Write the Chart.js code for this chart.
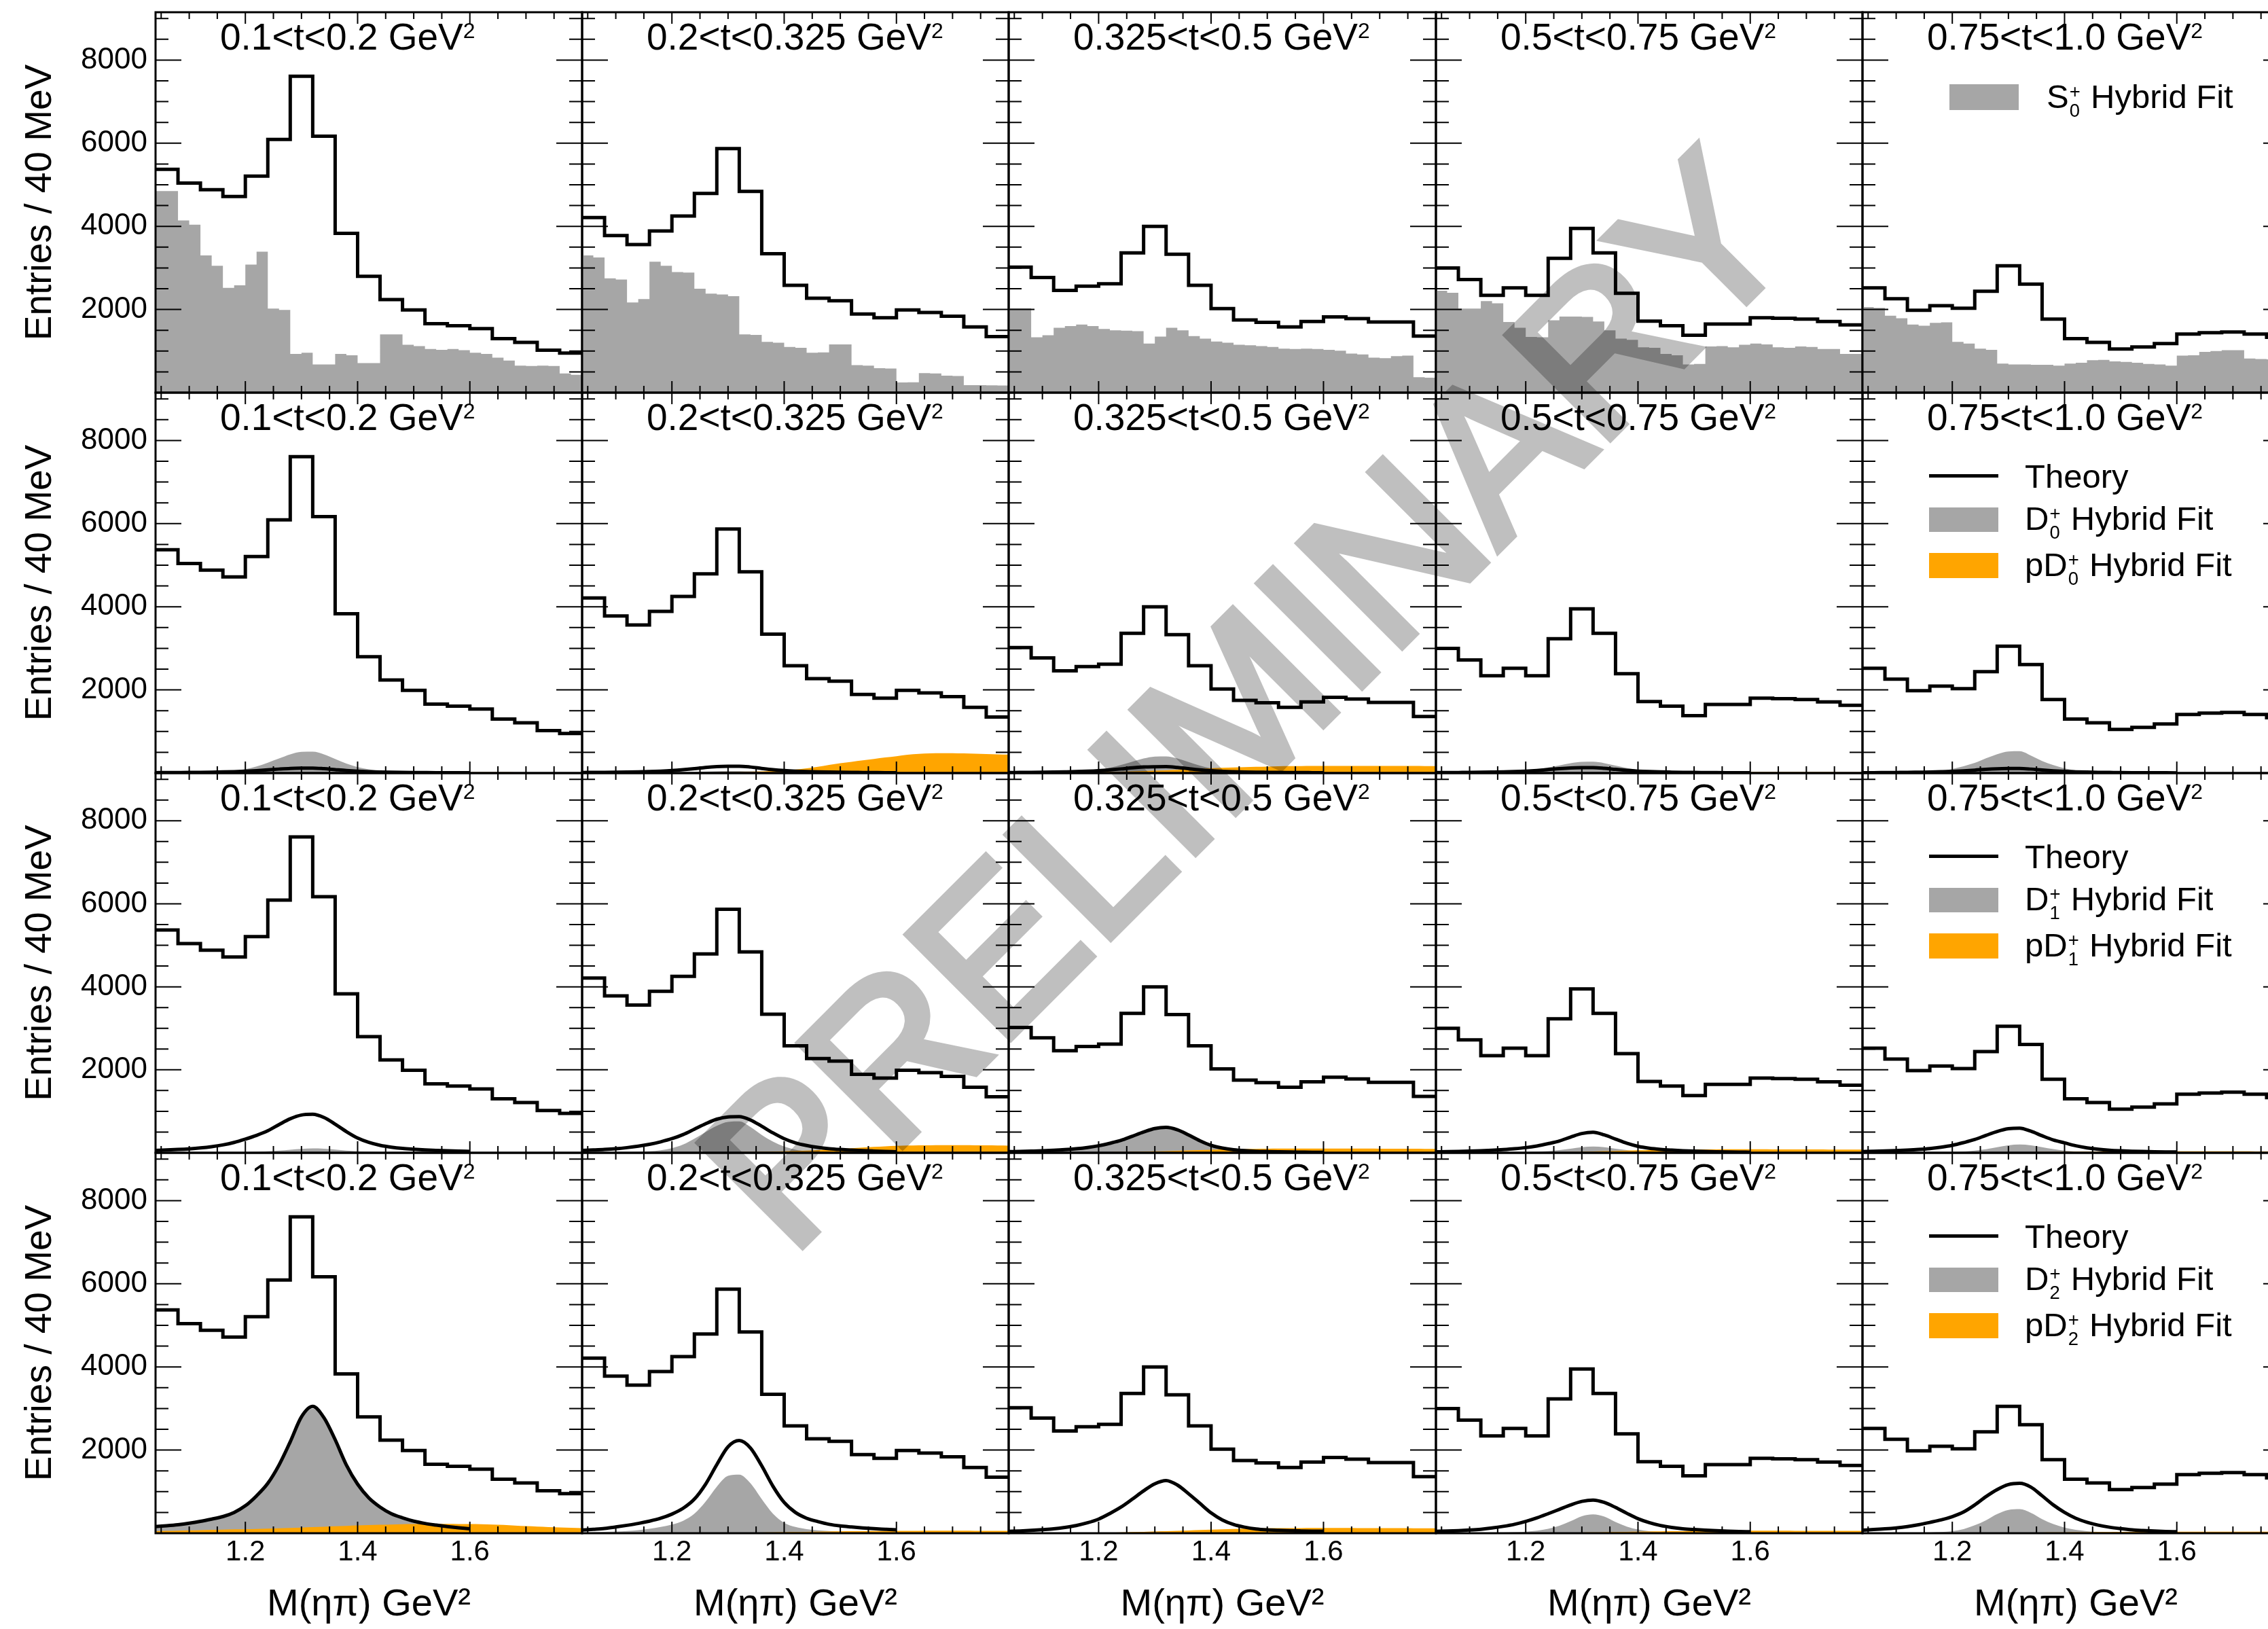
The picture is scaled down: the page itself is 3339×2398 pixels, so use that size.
<!DOCTYPE html>
<html>
<head>
<meta charset="utf-8">
<script src="https://cdn.jsdelivr.net/npm/chart.js@4/dist/chart.umd.min.js"></script>
<style>
html, body { margin: 0; padding: 0; width: 3339px; height: 2398px; overflow: hidden; background: #fff; }
#stage { position: absolute; left: 0; top: 0; width: 3400px; height: 2410px;
         font-family: "Liberation Sans", Arial, Helvetica, sans-serif; color: #000; }
#stage canvas { position: absolute; }
.ptitle { position: absolute; font-size: 55px; line-height: 55px; white-space: nowrap; }
.sq { font-size: 0.58em; position: relative; top: -0.55em; }
.leg { position: absolute; font-size: 49px; line-height: 49px; white-space: nowrap; }
.ss { display: inline-block; font-size: 0.56em; line-height: 1; vertical-align: -0.48em; margin: 0 0.06em 0 0.04em; }
.sw { position: absolute; }
#wm { position: absolute; left: 1833px; top: 1030px; transform: translate(-50%, -50%) rotate(-45deg);
      font-size: 312px; line-height: 312px; white-space: nowrap; color: #000; opacity: 0.25;
      -webkit-text-stroke: 11px #000; pointer-events: none; }
</style>
</head>
<body>
<div id="stage"></div>
<script>
// ---------------- t-bin labels and axis ticks ----------------
const tBinTitles = ['0.1<t<0.2', '0.2<t<0.325', '0.325<t<0.5', '0.5<t<0.75', '0.75<t<1.0'];
const massTickLabels = [1.2, 1.4, 1.6];
const massMinorTicks = [1.05, 1.10, 1.15, 1.25, 1.30, 1.35, 1.45, 1.50, 1.55, 1.65, 1.70, 1.75];
const countTickLabels = [2000, 4000, 6000, 8000];
const countMinorTicks = [500, 1000, 1500, 2500, 3000, 3500, 4500, 5000, 5500, 6500, 7000, 7500, 8500, 9000];
const massLow = 1.04, massHigh = 1.80, countMax = 9150;
const dataBinWidth = 0.04;   // 40 MeV data bins
const fitBinWidth = 0.02;    // fine binning of the fit components

// ---------------- measured M(eta pi) spectra, one per t bin (19 bins, 1.04-1.80) ----------------
const countsT1 = [5370, 5040, 4880, 4720, 5210, 6090, 7610, 6170, 3830, 2800, 2240, 1990, 1660, 1610, 1540, 1300, 1210, 1020, 950];
const countsT2 = [4210, 3780, 3560, 3890, 4250, 4790, 5870, 4840, 3340, 2580, 2270, 2210, 1890, 1800, 1990, 1930, 1840, 1580, 1350];
const countsT3 = [3020, 2770, 2460, 2560, 2620, 3360, 4000, 3330, 2580, 2020, 1750, 1690, 1580, 1710, 1820, 1780, 1700, 1700, 1360];
const countsT4 = [3000, 2720, 2340, 2520, 2340, 3230, 3950, 3360, 2390, 1720, 1610, 1380, 1650, 1650, 1800, 1790, 1770, 1710, 1630];
const countsT5 = [2520, 2260, 1980, 2090, 2030, 2440, 3050, 2610, 1770, 1300, 1210, 1050, 1100, 1180, 1410, 1440, 1460, 1410, 1330];

// ---------------- S0+ hybrid fit (38 bins of 20 MeV) ----------------
const s0FitT1 = [4850, 4850, 4140, 4040, 3300, 3050, 2520, 2580, 3080, 3390, 2020, 1990, 930, 960, 680, 680, 930, 900, 710, 710, 1400, 1400, 1150, 1120, 1050, 1030, 1050, 1020, 960, 930, 840, 770, 650, 640, 650, 640, 460, 430];
const s0FitT2 = [3300, 3250, 2750, 2720, 2170, 2250, 3150, 3050, 2900, 2890, 2500, 2380, 2360, 2320, 1400, 1390, 1220, 1200, 1100, 1080, 960, 970, 1160, 1160, 660, 650, 590, 580, 245, 250, 470, 460, 410, 400, 180, 180, 175, 170];
const s0FitT3 = [2030, 2030, 1330, 1380, 1560, 1600, 1640, 1600, 1530, 1500, 1490, 1480, 1180, 1350, 1560, 1500, 1360, 1300, 1230, 1200, 1150, 1140, 1120, 1100, 1060, 1050, 1060, 1050, 1030, 1010, 940, 920, 840, 830, 880, 890, 370, 360];
const s0FitT4 = [2450, 2400, 2020, 2020, 2200, 2150, 1700, 1560, 1340, 1330, 1740, 1830, 1830, 1820, 1710, 1500, 1300, 1270, 1090, 1080, 930, 900, 680, 690, 1110, 1120, 1090, 1150, 1180, 1160, 1090, 1080, 1110, 1100, 1050, 1050, 930, 930];
const s0FitT5 = [2060, 2040, 1850, 1790, 1640, 1610, 1680, 1690, 1220, 1180, 1060, 1030, 700, 680, 680, 670, 670, 650, 700, 720, 780, 790, 750, 740, 720, 690, 680, 650, 890, 900, 980, 1000, 1020, 1020, 820, 810, 800, 800];

// ---------------- D0+ (values at 1.04, 1.06, ... 1.80) ----------------
const d0FitT1 = [5, 6, 8, 10, 14, 20, 32, 55, 95, 160, 250, 350, 450, 510, 515, 450, 340, 230, 145, 90, 55, 35, 22, 15, 10, 8, 6, 5, 4, 3, 3, 3, 2, 2, 2, 2, 2, 2, 2];
const d0FitT2 = [1, 1, 1, 2, 2, 3, 4, 6, 10, 16, 25, 35, 45, 50, 50, 43, 32, 22, 14, 9, 6, 4, 3, 2, 2, 2, 2, 2, 2, 2, 2, 2, 2, 2, 2, 2, 2, 2, 2];
const d0FitT3 = [4, 5, 6, 8, 11, 16, 25, 43, 74, 125, 195, 273, 350, 398, 402, 350, 265, 180, 113, 70, 43, 27, 17, 12, 8, 6, 5, 4, 3, 3, 2, 2, 2, 2, 2, 2, 2, 2, 2];
const d0FitT4 = [3, 4, 5, 6, 8, 11, 17, 29, 50, 85, 133, 185, 238, 270, 272, 238, 180, 122, 77, 48, 29, 19, 12, 8, 6, 4, 3, 3, 2, 2, 2, 2, 1, 1, 1, 1, 1, 1, 1];
const d0FitT5 = [2, 3, 3, 4, 6, 9, 20, 50, 100, 165, 245, 355, 455, 520, 525, 420, 290, 190, 115, 65, 38, 24, 14, 9, 6, 5, 4, 3, 3, 2, 2, 2, 2, 2, 2, 2, 2, 2, 2];
const pd0FitT1 = [5, 5, 6, 6, 7, 7, 8, 8, 9, 9, 10, 10, 11, 12, 12, 13, 14, 14, 15, 16, 16, 17, 17, 18, 18, 18, 19, 19, 19, 19, 19, 19, 18, 18, 18, 17, 17, 16, 16];
const pd0FitT2 = [2, 3, 4, 5, 6, 7, 8, 10, 11, 13, 14, 16, 18, 20, 25, 32, 40, 48, 60, 85, 115, 150, 195, 235, 270, 305, 340, 375, 405, 440, 460, 472, 478, 478, 472, 465, 458, 450, 445];
const pd0FitT3 = [5, 6, 7, 8, 10, 12, 15, 18, 22, 27, 33, 40, 48, 57, 67, 78, 90, 102, 114, 125, 135, 144, 151, 157, 162, 166, 169, 171, 172, 173, 173, 173, 172, 172, 171, 170, 170, 169, 168];
const pd0FitT4 = [3, 3, 4, 4, 5, 5, 6, 7, 8, 9, 10, 11, 12, 13, 14, 15, 16, 17, 18, 19, 20, 21, 22, 22, 23, 23, 24, 24, 24, 24, 24, 24, 24, 23, 23, 23, 22, 22, 22];
const pd0FitT5 = [2, 2, 3, 3, 3, 4, 4, 5, 5, 6, 6, 7, 8, 8, 9, 9, 10, 10, 11, 11, 12, 12, 13, 13, 13, 14, 14, 14, 14, 14, 14, 14, 14, 14, 13, 13, 13, 13, 13];
// theory curves sampled at 1.04, 1.06, ... 1.60
const d0TheoryT1 = [10, 11, 13, 15, 18, 22, 27, 34, 44, 58, 76, 96, 112, 118, 120, 105, 82, 60, 44, 33, 26, 21, 17, 14, 12, 10, 9, 8, 7];
const d0TheoryT2 = [14, 16, 18, 21, 25, 30, 37, 47, 61, 81, 106, 135, 155, 163, 165, 145, 112, 82, 60, 45, 35, 28, 23, 19, 16, 14, 12, 10, 9];
const d0TheoryT3 = [13, 15, 17, 20, 24, 29, 35, 44, 57, 76, 100, 127, 146, 153, 155, 136, 105, 77, 56, 42, 33, 26, 21, 18, 15, 13, 11, 10, 9];
const d0TheoryT4 = [11, 12, 14, 16, 19, 23, 28, 36, 47, 63, 84, 107, 123, 129, 130, 114, 88, 65, 47, 35, 27, 22, 18, 15, 13, 11, 10, 9, 8];
const d0TheoryT5 = [9, 10, 12, 14, 16, 20, 24, 31, 40, 54, 71, 91, 104, 109, 110, 96, 74, 55, 40, 30, 23, 18, 15, 12, 10, 9, 8, 7, 6];

// ---------------- D1+ ----------------
const d1FitT1 = [1, 1, 2, 2, 3, 4, 6, 9, 14, 22, 35, 52, 75, 95, 105, 98, 78, 55, 36, 23, 15, 10, 7, 5, 4, 3, 2, 2, 2, 1, 1, 1, 1, 1, 1, 1, 1, 1, 1];
const d1FitT2 = [5, 7, 9, 12, 16, 22, 35, 60, 110, 200, 340, 500, 650, 745, 755, 620, 430, 270, 150, 75, 40, 22, 14, 10, 7, 5, 4, 4, 4, 4, 4, 4, 4, 4, 4, 4, 4, 4, 4];
const d1FitT3 = [20, 24, 29, 35, 44, 56, 74, 100, 140, 200, 280, 390, 500, 600, 630, 560, 420, 270, 160, 95, 58, 38, 26, 19, 14, 11, 9, 7, 6, 5, 5, 4, 4, 4, 3, 3, 3, 3, 3];
const d1FitT4 = [1, 1, 2, 2, 3, 4, 6, 9, 14, 24, 40, 65, 100, 135, 150, 135, 100, 65, 38, 22, 13, 8, 5, 4, 3, 2, 2, 2, 1, 1, 1, 1, 1, 1, 1, 1, 1, 1, 1];
const d1FitT5 = [1, 2, 2, 3, 4, 5, 7, 11, 18, 30, 52, 85, 135, 180, 200, 180, 135, 88, 52, 30, 18, 11, 7, 5, 4, 3, 2, 2, 2, 2, 2, 2, 1, 1, 1, 1, 1, 1, 1];
const pd1FitT1 = [3, 3, 4, 4, 5, 5, 6, 6, 7, 7, 8, 8, 9, 9, 10, 10, 11, 11, 12, 12, 12, 13, 13, 13, 13, 14, 14, 14, 14, 14, 14, 13, 13, 13, 13, 12, 12, 12, 12];
const pd1FitT2 = [2, 2, 3, 3, 4, 4, 5, 6, 7, 8, 9, 11, 13, 15, 18, 21, 25, 30, 36, 44, 54, 66, 80, 96, 112, 128, 143, 156, 166, 174, 179, 182, 184, 184, 183, 181, 179, 176, 173];
const pd1FitT3 = [3, 4, 5, 6, 7, 8, 10, 12, 14, 17, 20, 24, 29, 35, 42, 50, 58, 66, 74, 81, 87, 92, 96, 99, 101, 102, 103, 103, 103, 103, 102, 102, 101, 100, 99, 98, 97, 96, 95];
const pd1FitT4 = [2, 3, 3, 4, 5, 6, 7, 8, 10, 12, 14, 17, 21, 26, 32, 39, 46, 53, 60, 66, 71, 75, 78, 80, 82, 83, 84, 84, 84, 84, 83, 83, 82, 81, 80, 79, 78, 77, 76];
const pd1FitT5 = [2, 2, 3, 3, 4, 4, 5, 6, 7, 8, 9, 10, 12, 14, 16, 18, 20, 22, 24, 26, 28, 30, 31, 32, 33, 34, 35, 35, 36, 36, 36, 36, 35, 35, 35, 34, 34, 33, 33];
const d1TheoryT1 = [58, 68, 80, 96, 118, 148, 190, 250, 330, 420, 530, 680, 820, 910, 928, 850, 690, 510, 355, 250, 180, 135, 105, 86, 70, 58, 48, 40, 34];
const d1TheoryT2 = [58, 68, 80, 98, 125, 160, 205, 265, 340, 440, 570, 700, 810, 865, 872, 790, 640, 480, 340, 240, 175, 130, 100, 80, 65, 52, 42, 33, 25];
const d1TheoryT3 = [28, 33, 40, 48, 60, 76, 98, 128, 170, 230, 300, 400, 500, 585, 612, 555, 430, 290, 180, 115, 75, 52, 38, 30, 24, 19, 16, 13, 11];
const d1TheoryT4 = [25, 29, 34, 41, 50, 62, 78, 98, 125, 165, 220, 285, 380, 465, 495, 430, 330, 230, 155, 110, 82, 64, 50, 40, 32, 26, 21, 17, 14];
const d1TheoryT5 = [30, 36, 43, 52, 64, 80, 102, 135, 180, 245, 320, 420, 515, 580, 595, 520, 410, 310, 240, 170, 120, 85, 62, 48, 38, 31, 26, 22, 19];

// ---------------- D2+ ----------------
const d2FitT1 = [140, 160, 185, 215, 255, 305, 370, 470, 630, 860, 1160, 1600, 2150, 2740, 3000, 2720, 2200, 1600, 1150, 820, 600, 440, 330, 250, 190, 145, 110, 80, 60, 45, 35, 28, 22, 18, 15, 12, 10, 9, 8];
const d2FitT2 = [20, 25, 32, 42, 55, 75, 105, 150, 210, 300, 470, 760, 1120, 1380, 1410, 1200, 820, 470, 250, 150, 100, 70, 52, 40, 32, 26, 22, 18, 15, 13, 12, 11, 10, 9, 8, 8, 7, 7, 6];
const d2FitT3 = [1, 1, 1, 2, 2, 3, 4, 5, 7, 10, 15, 22, 32, 42, 48, 44, 33, 22, 14, 9, 6, 4, 3, 2, 2, 2, 1, 1, 1, 1, 1, 1, 1, 1, 1, 1, 1, 1, 1];
const d2FitT4 = [3, 4, 5, 6, 8, 11, 16, 24, 38, 62, 105, 180, 290, 410, 455, 400, 270, 160, 90, 50, 28, 17, 11, 8, 6, 5, 4, 3, 3, 2, 2, 2, 2, 2, 2, 1, 1, 1, 1];
const d2FitT5 = [3, 4, 5, 7, 9, 12, 18, 28, 50, 100, 190, 310, 460, 560, 580, 490, 340, 220, 135, 82, 50, 32, 21, 14, 10, 8, 6, 5, 4, 3, 3, 3, 2, 2, 2, 2, 2, 2, 2];
const pd2FitT1 = [50, 56, 62, 68, 74, 80, 86, 92, 98, 104, 110, 118, 126, 136, 146, 156, 166, 176, 186, 195, 203, 210, 216, 220, 222, 223, 223, 222, 220, 216, 210, 200, 185, 172, 160, 148, 138, 130, 122];
const pd2FitT2 = [2, 2, 3, 3, 4, 4, 5, 5, 6, 7, 8, 9, 10, 12, 14, 16, 18, 21, 24, 27, 31, 35, 39, 43, 47, 50, 53, 55, 57, 58, 59, 60, 60, 60, 60, 59, 59, 58, 58];
const pd2FitT3 = [3, 4, 5, 6, 7, 8, 10, 12, 15, 18, 22, 27, 33, 40, 48, 57, 66, 76, 85, 94, 102, 109, 114, 118, 121, 123, 124, 125, 125, 125, 125, 124, 124, 123, 122, 121, 120, 119, 118];
const pd2FitT4 = [2, 2, 3, 3, 4, 4, 5, 6, 7, 8, 10, 12, 14, 17, 20, 24, 28, 32, 36, 40, 44, 48, 51, 54, 56, 58, 59, 60, 60, 60, 60, 60, 59, 59, 58, 58, 57, 57, 56];
const pd2FitT5 = [2, 2, 2, 3, 3, 4, 4, 5, 6, 7, 8, 9, 10, 12, 14, 16, 18, 20, 22, 24, 26, 28, 30, 32, 34, 35, 36, 37, 38, 38, 38, 38, 38, 37, 37, 37, 36, 36, 35];
const d2TheoryT1 = [160, 180, 205, 240, 285, 340, 400, 500, 660, 900, 1200, 1640, 2200, 2800, 3050, 2780, 2250, 1640, 1180, 850, 630, 470, 370, 290, 235, 195, 160, 130, 105];
const d2TheoryT2 = [78, 95, 115, 150, 190, 235, 290, 360, 460, 600, 820, 1180, 1650, 2080, 2230, 2050, 1620, 1130, 740, 500, 360, 280, 215, 175, 150, 128, 110, 95, 80];
const d2TheoryT3 = [45, 55, 68, 85, 105, 140, 185, 250, 340, 475, 630, 820, 1020, 1190, 1268, 1160, 950, 720, 490, 320, 210, 145, 102, 80, 68, 60, 55, 51, 48];
const d2TheoryT4 = [45, 52, 62, 76, 95, 125, 165, 215, 285, 370, 470, 575, 680, 765, 797, 740, 620, 480, 350, 255, 185, 140, 108, 88, 72, 60, 50, 42, 36];
const d2TheoryT5 = [75, 88, 105, 128, 160, 205, 260, 320, 400, 510, 680, 880, 1050, 1170, 1200, 1110, 900, 680, 500, 360, 265, 195, 145, 110, 82, 65, 52, 42, 35];

// ---------------- grouping ----------------
const countsByT = [countsT1, countsT2, countsT3, countsT4, countsT5];
const fitRows = [
  { gray: [s0FitT1, s0FitT2, s0FitT3, s0FitT4, s0FitT5] },
  { gray: [d0FitT1, d0FitT2, d0FitT3, d0FitT4, d0FitT5],
    orange: [pd0FitT1, pd0FitT2, pd0FitT3, pd0FitT4, pd0FitT5],
    theory: [d0TheoryT1, d0TheoryT2, d0TheoryT3, d0TheoryT4, d0TheoryT5] },
  { gray: [d1FitT1, d1FitT2, d1FitT3, d1FitT4, d1FitT5],
    orange: [pd1FitT1, pd1FitT2, pd1FitT3, pd1FitT4, pd1FitT5],
    theory: [d1TheoryT1, d1TheoryT2, d1TheoryT3, d1TheoryT4, d1TheoryT5] },
  { gray: [d2FitT1, d2FitT2, d2FitT3, d2FitT4, d2FitT5],
    orange: [pd2FitT1, pd2FitT2, pd2FitT3, pd2FitT4, pd2FitT5],
    theory: [d2TheoryT1, d2TheoryT2, d2TheoryT3, d2TheoryT4, d2TheoryT5] }
];

// ---------------- layout & style ----------------
const FONT = '"Liberation Sans", Arial, Helvetica, sans-serif';
const GRAY = 'rgb(166,166,166)';
const ORANGE = 'rgb(255,165,0)';
const colLeft = [229, 857, 1485, 2114, 2742];
const colWidth = [628, 628, 629, 628, 628];
const rowTop = [18, 578, 1138, 1697];
const rowHeight = [560, 560, 559, 560];
const PAD = 6, YAXIS_W = 229, XAXIS_H = 141;

Chart.defaults.font.family = FONT;
Chart.defaults.color = '#000';

function histPoints(vals, width) {
  const pts = vals.map((v, i) => ({ x: massLow + i * width, y: v }));
  pts.push({ x: massLow + vals.length * width, y: vals[vals.length - 1] });
  return pts;
}
function curvePoints(vals, step) {
  return vals.map((v, i) => ({ x: massLow + i * step, y: v }));
}

// frame plus inward ticks on all four sides of each pad
const padFrame = {
  id: 'padFrame',
  afterDraw(chart) {
    const { ctx, chartArea: a } = chart;
    const xs = chart.scales.x, ys = chart.scales.y;
    ctx.save();
    ctx.strokeStyle = '#000';
    ctx.lineCap = 'butt';
    ctx.lineWidth = 2;
    ctx.beginPath();
    const yTick = (v, len) => {
      const p = ys.getPixelForValue(v);
      ctx.moveTo(a.left, p); ctx.lineTo(a.left + len, p);
      ctx.moveTo(a.right, p); ctx.lineTo(a.right - len, p);
    };
    const xTick = (v, len) => {
      const p = xs.getPixelForValue(v);
      ctx.moveTo(p, a.bottom); ctx.lineTo(p, a.bottom - len);
      ctx.moveTo(p, a.top); ctx.lineTo(p, a.top + len);
    };
    countTickLabels.forEach(v => yTick(v, 38));
    countMinorTicks.forEach(v => yTick(v, 19));
    massTickLabels.forEach(v => xTick(v, 17));
    massMinorTicks.forEach(v => xTick(v, 10));
    ctx.stroke();
    ctx.lineWidth = 3;
    ctx.strokeRect(a.left, a.top, a.right - a.left, a.bottom - a.top);
    ctx.restore();
  }
};

function panelDatasets(r, c) {
  const row = fitRows[r];
  const sets = [];
  if (r === 0) {
    sets.push({ data: histPoints(row.gray[c], fitBinWidth), stepped: true, fill: 'origin',
                backgroundColor: GRAY, borderColor: 'transparent', borderWidth: 0, order: 3 });
  } else {
    sets.push({ data: curvePoints(row.gray[c], fitBinWidth), fill: 'origin', cubicInterpolationMode: 'monotone',
                backgroundColor: GRAY, borderColor: 'transparent', borderWidth: 0, order: 3 });
    sets.push({ data: curvePoints(row.orange[c], fitBinWidth), fill: 'origin', cubicInterpolationMode: 'monotone',
                backgroundColor: ORANGE, borderColor: 'transparent', borderWidth: 0, order: 2 });
  }
  sets.push({ data: histPoints(countsByT[c], dataBinWidth), stepped: true, fill: false,
              borderColor: '#000', borderWidth: 5, order: 1 });
  if (r > 0) {
    sets.push({ data: curvePoints(row.theory[c], fitBinWidth), fill: false, cubicInterpolationMode: 'monotone',
                borderColor: '#000', borderWidth: 5, order: 0 });
  }
  return sets;
}

function panelConfig(r, c) {
  const showX = r === 3, showY = c === 0;
  return {
    type: 'line',
    data: { datasets: panelDatasets(r, c) },
    options: {
      responsive: false, animation: false, devicePixelRatio: 1, events: [],
      layout: { padding: PAD },
      elements: { point: { radius: 0 }, line: { borderJoinStyle: 'miter' } },
      plugins: { legend: { display: false }, tooltip: { enabled: false }, title: { display: false } },
      scales: {
        x: {
          type: 'linear', min: massLow, max: massHigh, bounds: 'data', display: showX,
          grid: { display: false, drawTicks: false }, border: { display: false },
          afterBuildTicks: s => { s.ticks = massTickLabels.map(v => ({ value: v })); },
          afterFit: showX ? (s => { s.height = XAXIS_H; s.paddingLeft = 0; s.paddingRight = 0; }) : undefined,
          ticks: { font: { size: 42 }, color: '#000', padding: 3, maxRotation: 0, autoSkip: false,
                   callback: v => Number(v).toFixed(1) },
          title: { display: true, text: 'M(ηπ) GeV²', font: { size: 56 }, color: '#000',
                   padding: { top: 0, bottom: 2 } }
        },
        y: {
          type: 'linear', min: 0, max: countMax, bounds: 'data', display: showY,
          grid: { display: false, drawTicks: false }, border: { display: false },
          afterBuildTicks: s => { s.ticks = countTickLabels.map(v => ({ value: v })); },
          afterFit: showY ? (s => { s.width = YAXIS_W; s.paddingTop = 0; s.paddingBottom = 0; }) : undefined,
          ticks: { font: { size: 44 }, color: '#000', padding: 12, autoSkip: false, callback: v => String(v) },
          title: { display: true, text: 'Entries / 40 MeV', font: { size: 55 }, color: '#000',
                   padding: { top: 27, bottom: 0 } }
        }
      }
    },
    plugins: [padFrame]
  };
}

const stage = document.getElementById('stage');
for (let r = 0; r < 4; r++) {
  for (let c = 0; c < 5; c++) {
    const extL = c === 0 ? YAXIS_W : 0;
    const extB = r === 3 ? XAXIS_H : 0;
    const w = colWidth[c] + extL + 2 * PAD;
    const h = rowHeight[r] + extB + 2 * PAD;
    const cv = document.createElement('canvas');
    cv.width = w; cv.height = h;
    cv.style.width = w + 'px'; cv.style.height = h + 'px';
    cv.style.left = (colLeft[c] - extL - PAD) + 'px';
    cv.style.top = (rowTop[r] - PAD) + 'px';
    stage.appendChild(cv);
    new Chart(cv, panelConfig(r, c));
  }
}

// pad titles
for (let r = 0; r < 4; r++) {
  for (let c = 0; c < 5; c++) {
    const d = document.createElement('div');
    d.className = 'ptitle';
    d.style.left = (colLeft[c] + 95) + 'px';
    d.style.top = (rowTop[r] + 9.4) + 'px';
    d.append(tBinTitles[c] + ' GeV');
    const s = document.createElement('span');
    s.className = 'sq';
    s.textContent = '2';
    d.append(s);
    stage.appendChild(d);
  }
}

// legends in the last column
function swatch(left, top, w, h, color) {
  const e = document.createElement('div');
  e.className = 'sw';
  Object.assign(e.style, { left: left + 'px', top: top + 'px', width: w + 'px', height: h + 'px', background: color });
  stage.appendChild(e);
}
function legendText(left, baseline, prefix, idx, rest) {
  const e = document.createElement('div');
  e.className = 'leg';
  e.style.left = left + 'px';
  e.style.top = (baseline - 41.5) + 'px';
  e.append(prefix);
  if (idx !== null) {
    const ss = document.createElement('span');
    ss.className = 'ss';
    ss.append('+', document.createElement('br'), idx);
    e.append(ss);
  }
  e.append(rest);
  stage.appendChild(e);
}
const legX = colLeft[4];
swatch(legX + 128, rowTop[0] + 106, 102, 38, GRAY);
legendText(legX + 271, rowTop[0] + 141, 'S', '0', ' Hybrid Fit');
for (let r = 1; r < 4; r++) {
  const k = String(r - 1);
  const t = rowTop[r];
  swatch(legX + 98, t + 119.5, 102, 5, '#000');
  legendText(legX + 239, t + 140, 'Theory', null, '');
  swatch(legX + 98, t + 169, 102, 36, GRAY);
  legendText(legX + 239, t + 202, 'D', k, ' Hybrid Fit');
  swatch(legX + 98, t + 236, 102, 37, ORANGE);
  legendText(legX + 239, t + 270, 'pD', k, ' Hybrid Fit');
}

// draft stamp across the grid
const wm = document.createElement('div');
wm.id = 'wm';
wm.textContent = 'PRELIMINARY';
stage.appendChild(wm);
</script>
</body>
</html>
